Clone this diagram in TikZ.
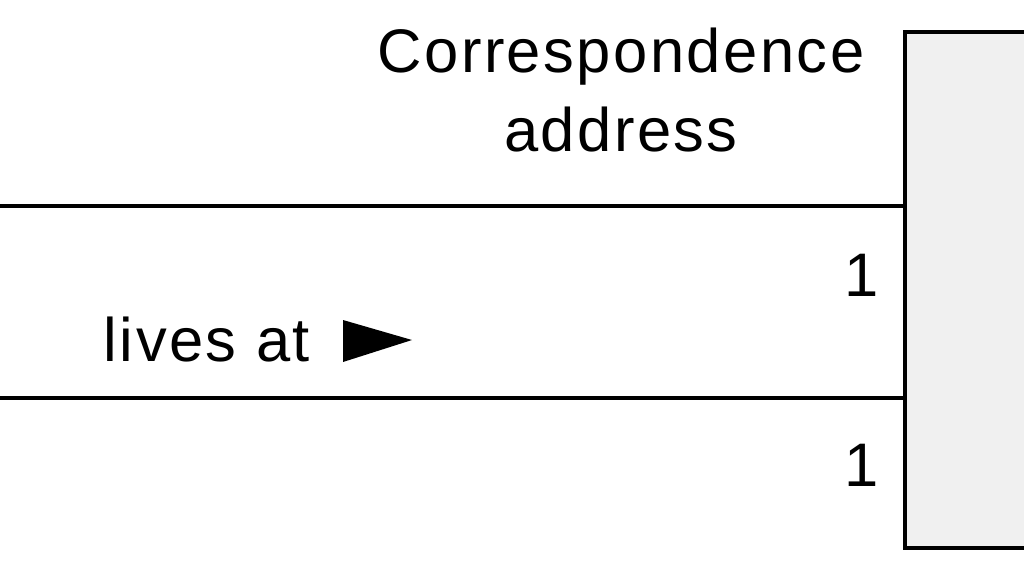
\documentclass[tikz,border=0pt]{standalone}
\usepackage{fontspec}
\setmainfont{Liberation Sans}[LetterSpace=4]
\usetikzlibrary{positioning, calc}

\begin{document}
\begin{tikzpicture}[
        every node/.style={font=\fontsize{17.5}{22.7}\selectfont, inner sep=0pt},
        assoc/.style={black, line width=0.9pt},
        classbox/.style={draw=black, line width=0.9pt, fill=gray!12}
    ]
    \useasboundingbox (0,0) rectangle (10.24,5.76);

    % Klasse (rechts, angeschnitten)
    \draw[classbox] (10.6,5.44) -- (9.05,5.44) -- (9.05,0.28) -- (10.6,0.28);
    \coordinate (box-top) at (9.05,3.70);
    \coordinate (box-bot) at (9.05,1.78);

    % Assoziationslinien
    \coordinate (left-top) at (-0.1,3.70);
    \coordinate (left-bot) at (-0.1,1.78);
    \draw[assoc] (left-top) -- (box-top);
    \draw[assoc] (left-bot) -- (box-bot);

    % Beschriftungen
    \node[align=center] (role) at (6.21,4.86) {Correspondence\\address};
    \node (mult-top) at (8.62,3.01) {1};
    \node (mult-bot) at (8.62,1.11) {1};
    \node (name) at (2.07,2.36) {lives at};
    \fill (3.43,2.56) -- (3.43,2.14) -- (4.12,2.36) -- cycle;

\end{tikzpicture}
\end{document}
